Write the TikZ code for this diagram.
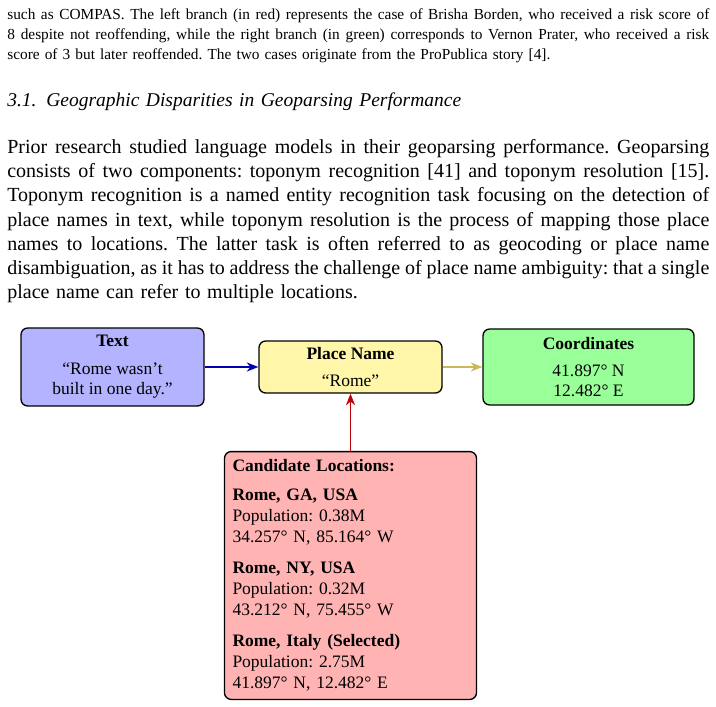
\documentclass[tikz,border=0pt]{standalone}
\usepackage{fontspec}
\setmainfont{Liberation Serif}
\usepackage{xcolor}
\usetikzlibrary{arrows.meta,positioning}

\definecolor{textfill}{RGB}{179,179,255}
\definecolor{placefill}{RGB}{255,246,170}
\definecolor{coordfill}{RGB}{153,255,153}
\definecolor{candfill}{RGB}{255,179,179}
\definecolor{textarrow}{RGB}{0,0,178}
\definecolor{placearrow}{RGB}{200,186,90}
\definecolor{candarrow}{RGB}{190,0,10}

\newcommand{\fullline}[1]{{\spaceskip=0pt\xspaceskip=0pt\makebox[421.2pt][s]{#1}}\par}
\frenchspacing

\begin{document}
\begin{tikzpicture}[x=0.6pt,y=0.6pt,yscale=-1,xscale=1,
  bodytext/.style={anchor=base west,inner sep=0pt,text width=421.2pt},
  box/.style={draw=black,line width=0.8pt,rounded corners=4pt,align=center,inner sep=2pt,font=\fontsize{10.5}{12}\selectfont},
  link/.style={line width=0.8pt,-{Stealth[length=7pt,width=5.5pt]}}]

\useasboundingbox (0,0) rectangle (716,707);


\node[bodytext,font=\fontsize{9.2}{12}\selectfont] (para1) at (7,19) {\fullline{such as COMPAS. The left branch (in red) represents the case of Brisha Borden, who received a risk score of}
\fullline{8 despite not reoffending, while the right branch (in green) corresponds to Vernon Prater, who received a risk}
score of 3 but later reoffended. The two cases originate from the ProPublica story [4].};

\node[bodytext,font=\fontsize{11.7}{14.5}\selectfont] (heading) at (7,106) {\textit{3.1.\enspace Geographic Disparities in Geoparsing Performance}};

\node[bodytext,font=\fontsize{12}{14.5}\selectfont] (para2) at (7,153.5) {\fullline{Prior research studied language models in their geoparsing performance. Geoparsing}
\fullline{consists of two components: toponym recognition [41] and toponym resolution [15].}
\fullline{Toponym recognition is a named entity recognition task focusing on the detection of}
\fullline{place names in text, while toponym resolution is the process of mapping those place}
\fullline{names to locations. The latter task is often referred to as geocoding or place name}
\fullline{disambiguation, as it has to address the challenge of place name ambiguity: that a single}
place name can refer to multiple locations.};


\node[box,fill=textfill,minimum width=109.8pt,minimum height=46.8pt] (txt) at (112.5,367) {\textbf{Text}\\[4.8pt]“Rome wasn’t\\built in one day.”};

\node[box,fill=placefill,minimum width=109.8pt,minimum height=31.2pt] (place) at (350.5,367) {\textbf{Place Name}\\[4.2pt]“Rome”};

\node[box,fill=coordfill,minimum width=126.6pt,minimum height=45.6pt] (coords) at (588.5,367) {\textbf{Coordinates}\\[4.2pt]41.897° N\\12.482° E};

\node[box,fill=candfill,align=left,text width=141.6pt,inner sep=4.8pt,minimum height=148.2pt,font=\fontsize{10.5}{12.6}\selectfont] (cand) at (350.5,575.5) {\textbf{Candidate Locations:}\\[4.8pt]
\textbf{Rome, GA, USA}\\Population: 0.38M\\34.257° N, 85.164° W\\[6pt]
\textbf{Rome, NY, USA}\\Population: 0.32M\\43.212° N, 75.455° W\\[6pt]
\textbf{Rome, Italy (Selected)}\\Population: 2.75M\\41.897° N, 12.482° E};


\draw[link,textarrow] (txt) -- (place);

\draw[link,placearrow] (place) -- (coords);

\draw[link,candarrow] (cand) -- (place);


\end{tikzpicture}
\end{document}
